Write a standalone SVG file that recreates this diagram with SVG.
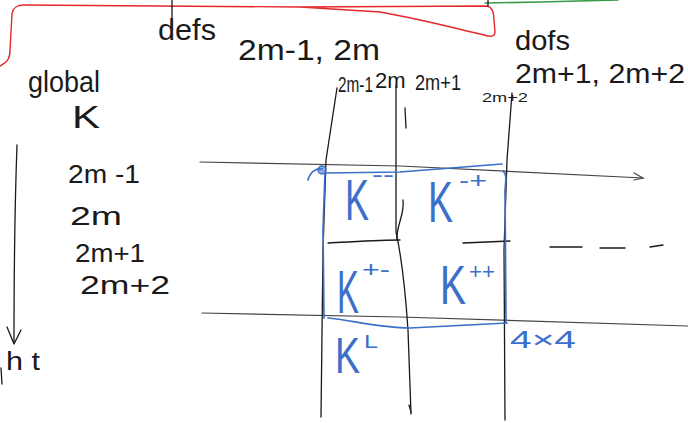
<svg xmlns="http://www.w3.org/2000/svg" width="688" height="423" viewBox="0 0 688 423">
  <style>
    .ink { fill: none; stroke: #1a1a1a; stroke-width: 1.3; stroke-linecap: round; stroke-linejoin: round; }
    .grey { fill: none; stroke: #444; stroke-width: 1.2; stroke-linecap: round; }
    .blue { fill: none; stroke: #3b6fc8; stroke-width: 1.7; stroke-linecap: round; stroke-linejoin: round; }
    .red { fill: none; stroke: #e5262b; stroke-width: 1.4; stroke-linecap: round; stroke-linejoin: round; }
    .green { fill: none; stroke: #3a9a48; stroke-width: 1.6; stroke-linecap: round; }
    text { font-family: "Liberation Sans", "DejaVu Sans", sans-serif; }
    .t { fill: #1a1a1a; }
    .tb { fill: #3b6fc8; }
  </style>
  <rect width="688" height="423" fill="#ffffff"/>

  <!-- bracket strokes at the top -->
  <g id="brackets">
    <path class="red" d="M0,66 C8,62 10,58 10,50 L12,14 C13,8 16,5 24,5 L300,7 L487,6 C492,7 494,12 494,20 L495,32 C495,37 490,37 484,35 C450,27 420,19 380,12 L300,7"/>
    <path class="green" d="M485,3 L540,2 L618,0"/>
    <path class="ink" d="M488,0 L488,6"/>
  </g>

  <!-- headings -->
  <g id="headings">
    <path class="ink" d="M172,0 L172,18"/>
    <text class="t" x="158" y="40" font-size="30" textLength="58" lengthAdjust="spacingAndGlyphs">defs</text>
    <text class="t" x="238" y="60" font-size="30" textLength="142" lengthAdjust="spacingAndGlyphs">2m-1, 2m</text>
    <text class="t" x="515" y="50" font-size="28" textLength="55" lengthAdjust="spacingAndGlyphs">dofs</text>
    <text class="t" x="515" y="83" font-size="28" textLength="170" lengthAdjust="spacingAndGlyphs">2m+1, 2m+2</text>
    <text class="t" x="28" y="92" font-size="30" textLength="72" lengthAdjust="spacingAndGlyphs">global</text>
    <text class="t" x="72" y="128" font-size="32" textLength="28" lengthAdjust="spacingAndGlyphs">K</text>
  </g>

  <!-- column labels -->
  <g id="col-labels">
    <text class="t" transform="translate(338,92) scale(0.7,1)" font-size="22">2m-1</text>
    <text class="t" x="375" y="88" font-size="22">2m</text>
    <text class="t" x="415" y="90" font-size="22" textLength="46" lengthAdjust="spacingAndGlyphs">2m+1</text>
    <text class="t" x="482" y="102" font-size="13" textLength="46" lengthAdjust="spacingAndGlyphs">2m+2</text>
  </g>

  <!-- row labels and downward axis -->
  <g id="row-labels">
    <text class="t" x="68" y="183" font-size="26" textLength="72" lengthAdjust="spacingAndGlyphs">2m -1</text>
    <text class="t" x="70" y="225" font-size="26" textLength="52" lengthAdjust="spacingAndGlyphs">2m</text>
    <text class="t" x="75" y="262" font-size="26" textLength="70" lengthAdjust="spacingAndGlyphs">2m+1</text>
    <text class="t" x="80" y="294" font-size="26" textLength="90" lengthAdjust="spacingAndGlyphs">2m+2</text>
    <path class="ink" d="M17,145 C15,200 14,280 14,343"/>
    <path class="ink" d="M7,327 L14,344 L21,330"/>
    <text class="t" x="6" y="370" font-size="26" textLength="34" lengthAdjust="spacingAndGlyphs">h t</text>
    <path class="ink" d="M1,368 L2,384"/>
  </g>

  <!-- grid lines -->
  <g id="grid">
    <path class="grey" d="M200,162 L400,166 L643,178"/>
    <path class="grey" d="M634,173 L643,178 L634,180"/>
    <path class="grey" d="M202,313 L400,317 L688,326"/>
    <path class="ink" d="M328,243 C350,242 380,240 400,240"/>
    <path class="ink" d="M463,243 L510,241"/>
    <path class="ink" d="M550,247 L582,247"/>
    <path class="ink" d="M600,248 L625,248"/>
    <path class="ink" d="M650,247 L663,245"/>
    <path class="ink" d="M337,88 L326,160 L323,250 L321,417"/>
    <path class="ink" d="M396,86 L396,232 C400,250 405,285 408,330 L411,414"/>
    <path class="ink" d="M403,200 C405,215 396,225 397,240"/>
    <path class="ink" d="M409,405 L411,412"/>
    <path class="ink" d="M405,108 L406,128"/>
    <path class="ink" d="M512,93 L507,160 L504,250 L505,420"/>
  </g>

  <!-- 4x4 element block -->
  <g id="block">
    <path class="blue" d="M325,173 L400,172 L502,164"/>
    <path class="blue" d="M503,171 C507,174 506,180 505,190 L506,323"/>
    <path class="blue" d="M507,323 L410,328 C380,328 350,320 328,318"/>
    <path class="blue" d="M325,172 L323,230 L324,318"/>
    <circle cx="322" cy="170" r="4" fill="#3b6fc8" fill-opacity="0.6" stroke="#3b6fc8" stroke-width="1.4"/>
    <path class="blue" d="M308,180 C310,172 316,168 322,169"/>

    <text class="tb" transform="translate(345,220) scale(0.62,1)" font-size="58">K</text>
    <text class="tb" x="372" y="182" font-size="22" textLength="22" lengthAdjust="spacingAndGlyphs">--</text>

    <text class="tb" transform="translate(428,222) scale(0.646,1)" font-size="58">K</text>
    <text class="tb" x="459" y="188" font-size="22" textLength="28" lengthAdjust="spacingAndGlyphs">-+</text>

    <text class="tb" transform="translate(337,313) scale(0.53,1)" font-size="62">K</text>
    <text class="tb" x="362" y="277" font-size="22" textLength="28" lengthAdjust="spacingAndGlyphs">+-</text>

    <text class="tb" transform="translate(440,304) scale(0.695,1)" font-size="56">K</text>
    <text class="tb" x="469" y="279" font-size="22" textLength="26" lengthAdjust="spacingAndGlyphs">++</text>

    <text class="tb" transform="translate(335,373) scale(0.75,1)" font-size="50">K</text>
    <text class="tb" x="364" y="348" font-size="18" textLength="14" lengthAdjust="spacingAndGlyphs">L</text>

    <text class="tb" x="510" y="348" font-size="24" textLength="66" lengthAdjust="spacingAndGlyphs">4×4</text>
  </g>
</svg>
